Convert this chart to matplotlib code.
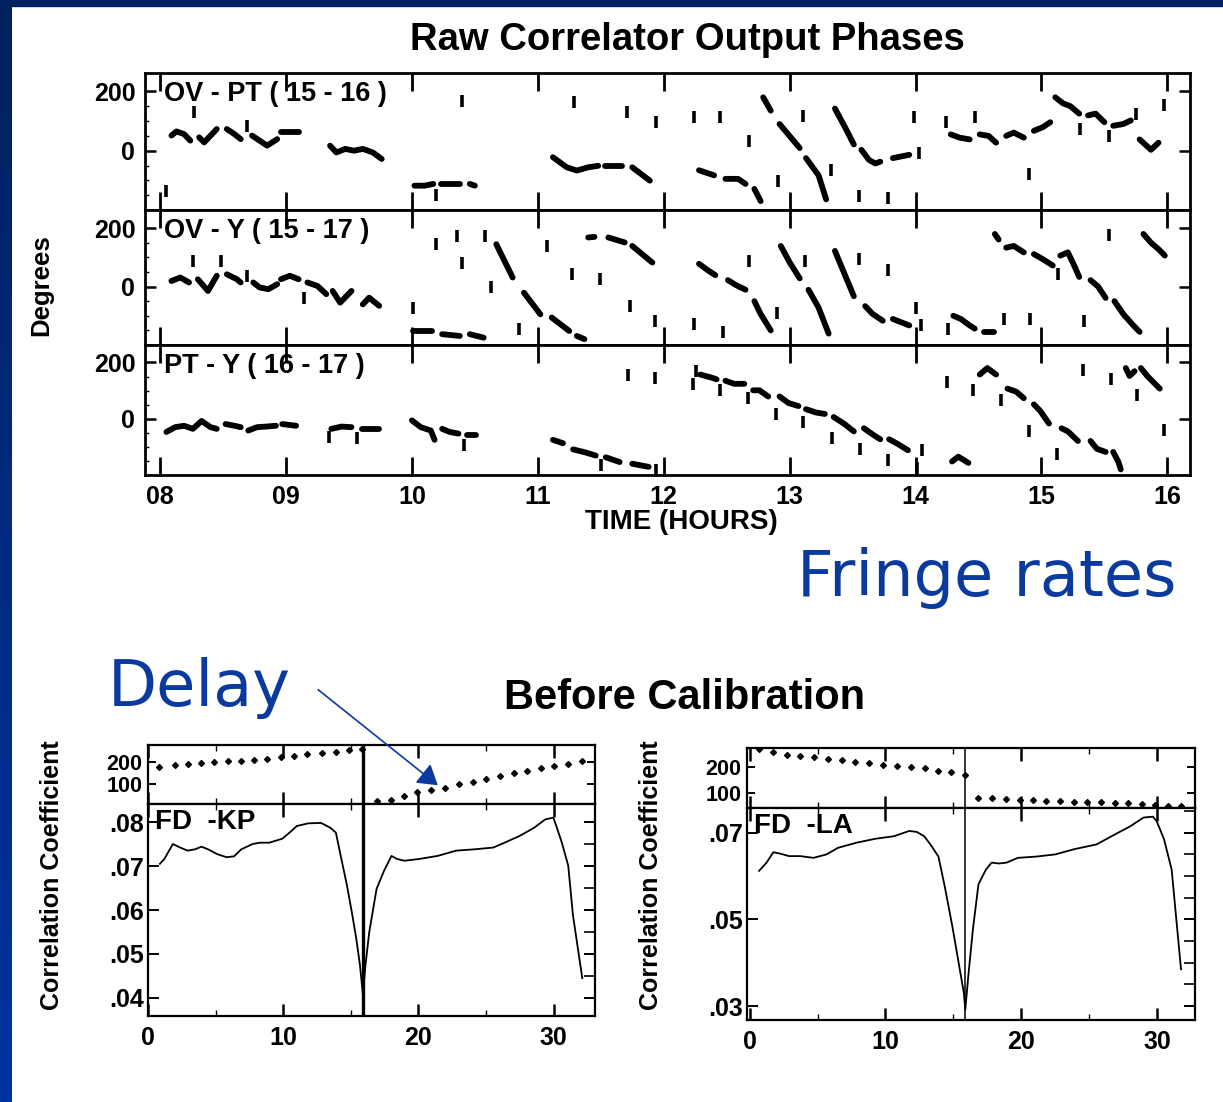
import matplotlib
matplotlib.use("Agg")
import matplotlib.pyplot as plt
from matplotlib.patches import Rectangle, FancyArrowPatch
from matplotlib.colors import LinearSegmentedColormap
import numpy as np

# ---------------- data ----------------
HOUR_TICKS = [8, 9, 10, 11, 12, 13, 14, 15, 16]
HOUR_LABELS = ["08", "09", "10", "11", "12", "13", "14", "15", "16"]
DEG_TICKS = [0, 200]
BASELINES = ["OV - PT ( 15 - 16 )", "OV - Y ( 15 - 17 )", "PT - Y ( 16 - 17 )"]

OVPT_TRACKS = [
    [(8.09, 51), (8.13, 65), (8.19, 56), (8.24, 34)],
    [(8.31, 45), (8.35, 28), (8.45, 73)],
    [(8.53, 73), (8.59, 56), (8.64, 39)],
    [(8.73, 51), (8.79, 34), (8.85, 17), (8.93, 39)],
    [(8.96, 64), (9.10, 64)],
    [(9.35, 17), (9.40, -6), (9.47, 6), (9.54, 0), (9.61, 6), (9.69, -6), (9.76, -28)],
    [(10.02, -118), (10.10, -118), (10.17, -112)],
    [(10.23, -112), (10.31, -112), (10.38, -112)],
    [(10.46, -112), (10.50, -118)],
    [(11.12, -22), (11.23, -56), (11.31, -67), (11.40, -56), (11.48, -51)],
    [(11.53, -51), (11.67, -51)],
    [(11.75, -56), (11.89, -101)],
    [(12.28, -66), (12.40, -83)],
    [(12.49, -95), (12.59, -95), (12.65, -112)],
    [(12.72, -129), (12.77, -170)],
    [(12.79, 180), (12.85, 135)],
    [(12.92, 90), (13.08, 9)],
    [(13.13, -25), (13.23, -83), (13.29, -164)],
    [(13.36, 142), (13.44, 79), (13.51, 21)],
    [(13.57, 3), (13.63, -31), (13.68, -43), (13.72, -37)],
    [(13.82, -25), (13.95, -14)],
    [(14.28, 55), (14.35, 44), (14.43, 38)],
    [(14.51, 55), (14.58, 50), (14.64, 27)],
    [(14.72, 50), (14.78, 61), (14.86, 44)],
    [(14.94, 67), (15.01, 79), (15.07, 96)],
    [(15.11, 180), (15.17, 160), (15.23, 150), (15.30, 125)],
    [(15.37, 119), (15.43, 125), (15.50, 96)],
    [(15.57, 84), (15.65, 90), (15.71, 102)],
    [(15.78, 38), (15.87, 3), (15.93, 27)],
]
OVPT_DOTS = [(8.05, -135), (8.27, 129), (8.69, 82), (10.19, -150), (10.40, 169),
             (11.29, 163), (11.71, 129), (11.94, 96), (12.24, 113), (12.45, 113),
             (12.68, 32), (12.91, -101), (13.11, 116), (13.33, -66), (13.55, -153),
             (13.78, -158), (13.99, 113), (14.03, -8), (14.24, 96), (14.47, 113),
             (14.90, -77), (15.31, 73), (15.54, 50), (15.75, 125), (15.97, 154)]

OVY_TRACKS = [
    [(8.09, 19), (8.16, 31), (8.23, 14)],
    [(8.30, 25), (8.38, -15), (8.45, 37)],
    [(8.53, 42), (8.61, 25), (8.64, 14)],
    [(8.74, 14), (8.79, -3), (8.86, -9), (8.93, 8)],
    [(8.96, 25), (9.03, 37), (9.10, 25)],
    [(9.17, 14), (9.25, 2), (9.32, -26)],
    [(9.37, -15), (9.43, -55), (9.52, -15)],
    [(9.61, -61), (9.66, -38), (9.74, -66)],
    [(10.01, -152), (10.16, -152)],
    [(10.24, -163), (10.38, -169)],
    [(10.46, -163), (10.57, -175)],
    [(10.67, 145), (10.80, 31)],
    [(10.89, -21), (11.02, -95)],
    [(11.11, -106), (11.25, -152)],
    [(11.31, -169), (11.37, -180)],
    [(11.40, 168), (11.45, 170)],
    [(11.56, 168), (11.69, 151)],
    [(11.75, 139), (11.91, 82)],
    [(12.28, 78), (12.35, 56), (12.41, 39)],
    [(12.51, 22), (12.57, 6), (12.65, -11)],
    [(12.72, -50), (12.77, -94), (12.85, -150)],
    [(12.93, 139), (13.00, 83), (13.08, 28)],
    [(13.15, -11), (13.23, -72), (13.31, -161)],
    [(13.36, 122), (13.44, 39), (13.51, -33)],
    [(13.60, -67), (13.66, -94), (13.74, -117)],
    [(13.82, -111), (13.95, -133)],
    [(14.30, -100), (14.36, -111), (14.43, -133), (14.47, -144)],
    [(14.54, -155), (14.62, -155)],
    [(14.63, 180), (14.66, 161)],
    [(14.72, 133), (14.78, 139), (14.86, 117)],
    [(14.94, 111), (15.01, 94), (15.09, 72)],
    [(15.15, 106), (15.21, 117), (15.26, 72), (15.30, 33)],
    [(15.39, 22), (15.45, 0), (15.51, -39)],
    [(15.58, -50), (15.65, -94), (15.73, -133), (15.78, -155)],
    [(15.81, 180), (15.87, 150), (15.93, 128), (15.98, 106)],
]
OVY_DOTS = [(8.26, 88), (8.48, 88), (8.69, 37), (9.14, -38), (10.01, -72), (10.19, 145),
            (10.36, 174), (10.58, 174), (10.40, 82), (10.63, -3), (10.85, -146),
            (11.07, 139), (11.27, 42), (11.49, 25), (11.73, -66), (11.93, -118),
            (12.24, -128), (12.47, -155), (12.68, 89), (12.90, -89), (13.12, 89),
            (13.55, 94), (13.78, 56), (14.00, -72), (14.04, -133), (14.26, -144),
            (14.70, -111), (14.91, -111), (15.13, 44), (15.34, -117), (15.54, 178)]

PTY_TRACKS = [
    [(8.05, -47), (8.12, -30), (8.19, -25), (8.26, -36), (8.33, -8), (8.40, -30), (8.45, -36)],
    [(8.52, -19), (8.59, -25), (8.64, -30)],
    [(8.70, -42), (8.77, -30), (8.84, -28), (8.92, -25)],
    [(8.97, -19), (9.08, -25)],
    [(9.36, -36), (9.44, -28), (9.52, -30)],
    [(9.60, -36), (9.74, -36)],
    [(10.00, -6), (10.07, -30), (10.15, -42), (10.18, -75)],
    [(10.24, -36), (10.30, -47), (10.37, -53)],
    [(10.44, -58), (10.51, -58)],
    [(11.12, -75), (11.20, -87)],
    [(11.28, -109), (11.38, -120), (11.46, -131)],
    [(11.54, -137), (11.65, -154)],
    [(11.75, -160), (11.88, -171)],
    [(12.29, 157), (12.38, 146), (12.42, 140)],
    [(12.49, 135), (12.56, 124), (12.64, 124)],
    [(12.71, 101), (12.76, 101), (12.83, 79)],
    [(12.92, 79), (12.99, 56), (13.07, 45)],
    [(13.13, 34), (13.21, 22), (13.28, 17)],
    [(13.35, 6), (13.43, -17), (13.51, -45)],
    [(13.59, -34), (13.66, -56), (13.72, -73)],
    [(13.79, -73), (13.86, -90), (13.94, -112)],
    [(14.29, -152), (14.34, -135), (14.42, -157)],
    [(14.51, 157), (14.57, 180), (14.64, 157)],
    [(14.73, 107), (14.80, 96), (14.86, 73)],
    [(14.94, 51), (14.99, 28), (15.06, -17)],
    [(15.16, -34), (15.21, -45), (15.29, -79)],
    [(15.39, -79), (15.44, -107), (15.51, -118)],
    [(15.57, -118), (15.61, -152), (15.63, -180)],
    [(15.67, 180), (15.70, 152), (15.74, 169)],
    [(15.79, 180), (15.84, 152), (15.94, 107)],
]
PTY_DOTS = [(9.34, -64), (9.56, -70), (10.41, -92), (11.50, -165), (11.94, -182),
            (11.72, 155), (11.93, 144), (12.26, 169), (12.23, 124), (12.45, 101),
            (12.67, 73), (12.89, 17), (13.11, -11), (13.34, -67), (13.56, -107),
            (13.78, -146), (14.01, -174), (14.05, -112), (14.25, 129), (14.46, 101),
            (14.68, 67), (14.90, -45), (15.12, -124), (15.33, 174), (15.55, 140),
            (15.76, 84), (15.97, -39)]

# Before calibration: delay (upper) and correlation coefficient (lower)
KP_DELAY_T = [0.82, 1.97, 2.93, 3.89, 4.90, 5.89, 6.85, 7.86, 8.82, 9.84, 10.79, 11.78,
              12.85, 13.89, 14.85, 15.81, 16.90, 17.95, 18.96, 19.92, 20.96, 21.97,
              23.01, 24.03, 24.99, 26.03, 27.04, 28.05, 29.04, 30.05, 31.07, 32.11]
KP_DELAY = [180, 188, 192, 197, 202, 206, 209, 212, 218, 226, 232, 238, 245, 251, 257, 262,
            17, 25, 42, 60, 69, 82, 100, 108, 123, 137, 152, 162, 172, 184, 195, 205]
KP_CORR_T = [0.88, 1.21, 1.84, 2.38, 2.93, 3.48, 3.95, 4.44, 5.12, 5.81, 6.36, 6.90, 7.73,
             8.27, 8.96, 9.92, 10.47, 11.01, 11.84, 12.79, 13.48, 13.89, 14.25, 14.71,
             15.07, 15.40, 15.67, 15.89, 16.08, 16.36, 16.90, 17.45, 18.00, 18.41, 18.96,
             20.05, 21.42, 22.79, 24.16, 25.53, 26.36, 27.45, 28.55, 29.37, 29.97, 30.19,
             30.60, 31.07, 31.42, 32.11]
KP_CORR = [0.0705, 0.0716, 0.0750, 0.0742, 0.0735, 0.0738, 0.0744, 0.0738, 0.0727, 0.0720,
           0.0722, 0.0738, 0.0750, 0.0753, 0.0753, 0.0762, 0.0776, 0.0791, 0.0797, 0.0798,
           0.0787, 0.0776, 0.0723, 0.0656, 0.0595, 0.0535, 0.0475, 0.0408, 0.0475, 0.0550,
           0.0648, 0.0689, 0.0723, 0.0716, 0.0712, 0.0716, 0.0723, 0.0735, 0.0738, 0.0742,
           0.0753, 0.0768, 0.0787, 0.0806, 0.0810, 0.0791, 0.0753, 0.0701, 0.0588, 0.0445]

LA_DELAY_T = [0.69, 1.74, 2.71, 3.73, 4.75, 5.75, 6.77, 7.79, 8.78, 9.81, 10.83, 11.88,
              12.90, 13.90, 14.83, 15.83, 16.85, 17.87, 18.87, 19.89, 20.86, 21.82, 22.85,
              23.90, 24.86, 25.88, 26.93, 27.90, 28.87, 29.83, 30.80, 31.77]
LA_DELAY = [269, 258, 248, 243, 239, 232, 226, 219, 216, 209, 204, 200, 197, 187, 181, 171,
            79, 79, 77, 74, 74, 71, 70, 67, 66, 64, 61, 60, 57, 55, 51, 48]
LA_CORR_T = [0.69, 1.24, 1.74, 2.21, 2.90, 3.73, 4.70, 5.66, 6.49, 7.87, 9.25, 10.64, 11.74,
             12.29, 12.85, 13.40, 13.90, 14.36, 14.92, 15.39, 15.77, 15.88, 16.10, 16.44,
             16.85, 17.40, 17.82, 18.37, 18.92, 19.75, 21.13, 22.51, 23.90, 25.55, 26.66,
             28.04, 29.01, 29.70, 29.97, 30.52, 31.08, 31.77]
LA_CORR = [0.0612, 0.0631, 0.0655, 0.0652, 0.0646, 0.0646, 0.0642, 0.0650, 0.0665, 0.0677,
           0.0686, 0.0692, 0.0704, 0.0702, 0.0692, 0.0669, 0.0645, 0.0577, 0.0485, 0.0400,
           0.0331, 0.0292, 0.0369, 0.0477, 0.0581, 0.0615, 0.0631, 0.0629, 0.0631, 0.0642,
           0.0645, 0.0650, 0.0662, 0.0673, 0.0692, 0.0715, 0.0735, 0.0737, 0.0727, 0.0685,
           0.0615, 0.0385]

SCAN_TICKS = [0, 10, 20, 30]
DELAY_TICKS = [100, 200]
KP_CORR_TICKS = [0.04, 0.05, 0.06, 0.07, 0.08]
KP_CORR_LABELS = [".04", ".05", ".06", ".07", ".08"]
LA_CORR_TICKS = [0.03, 0.05, 0.07]
LA_CORR_LABELS = [".03", ".05", ".07"]

# ---------------- figure ----------------
W, H = 1223, 1102
fig = plt.figure(figsize=(W / 100, H / 100), dpi=100)
fig.patch.set_facecolor("white")
FONT = "Liberation Sans"
BLUE = "#0a3a9e"


def box(x0, y0, x1, y1):
    return [x0 / W, 1 - y1 / H, (x1 - x0) / W, (y1 - y0) / H]


def fx(x):
    return x / W


def fy(y):
    return 1 - y / H


# frame bands (slide decoration)
fig.patches.append(Rectangle((0, fy(6)), 1, 6 / H, transform=fig.transFigure,
                             color="#00215f", zorder=0))
band = fig.add_axes(box(0, 0, 11, H))
grad = np.linspace(0, 1, 256).reshape(-1, 1)
cmap = LinearSegmentedColormap.from_list("band", ["#00215f", "#0033a2"])
band.imshow(grad, aspect="auto", cmap=cmap, extent=[0, 1, 0, 1], origin="upper")
band.axis("off")

tick_font = dict(family=FONT, weight="bold", size=18)
small_tick_font = dict(family=FONT, weight="bold", size=15.5)


def style_axes(ax, lw=1.8):
    for s in ax.spines.values():
        s.set_linewidth(lw)
    ax.tick_params(which="both", direction="in", top=True, right=True, color="black")


# ---------------- top: raw correlator output phases ----------------
panels = [(OVPT_TRACKS, OVPT_DOTS), (OVY_TRACKS, OVY_DOTS), (PTY_TRACKS, PTY_DOTS)]
edges = [73, 210, 345, 475]
for i, (tracks, dots) in enumerate(panels):
    ax = fig.add_axes(box(145, edges[i], 1190, edges[i + 1]))
    style_axes(ax, 2.0)
    ax.set_xlim(7.88, 16.18)
    ax.set_ylim(-200, 262)
    for seg in tracks:
        ts = [p[0] for p in seg]
        ds = [p[1] for p in seg]
        ax.plot(ts, ds, color="black", lw=4.2, solid_capstyle="round",
                solid_joinstyle="round")
    ax.plot([p[0] for p in dots], [p[1] for p in dots], ls="none", marker="|",
            ms=9, mew=2.6, color="black")
    ax.set_xticks(HOUR_TICKS)
    ax.set_yticks(DEG_TICKS)
    ax.set_yticks([-150, -100, -50, 50, 100, 150], minor=True)
    ax.tick_params(axis="x", length=13, width=2.0)
    ax.tick_params(axis="y", length=8, width=1.8, pad=7)
    ax.tick_params(axis="y", which="minor", length=3, width=1, left=True, right=False)
    ax.set_yticklabels([str(v) for v in DEG_TICKS], **tick_font)
    if i == 2:
        ax.set_xticklabels(HOUR_LABELS, **tick_font)
        ax.tick_params(axis="x", pad=7)
    else:
        ax.set_xticklabels([])
    ax.text(0.018, 0.94, BASELINES[i], transform=ax.transAxes, ha="left", va="top",
            family=FONT, size=19.5, weight="bold")

fig.text(fx(687), fy(40), "Raw Correlator Output Phases", ha="center", va="center",
         family=FONT, weight="bold", size=27.5)
fig.text(fx(41), fy(285), "Degrees", ha="center", va="center", rotation=90,
         family=FONT, weight="bold", size=18.5)
fig.text(fx(681), fy(522), "TIME (HOURS)", ha="center", va="center",
         family=FONT, weight="bold", size=20)

# ---------------- annotations ----------------
fig.text(fx(797), fy(578), "Fringe rates", ha="left", va="center", color=BLUE,
         family="DejaVu Sans", size=46)
fig.text(fx(108), fy(688), "Delay", ha="left", va="center", color=BLUE,
         family="DejaVu Sans", size=46)
fig.text(fx(685), fy(698), "Before Calibration", ha="center", va="center",
         family=FONT, weight="bold", size=30)

# ---------------- bottom: before calibration ----------------
specs = [
    dict(up=(148, 745, 595, 804), lo=(148, 804, 595, 1016), xlim=(0, 33.05),
         dlim=(5, 282), clim=(0.0359, 0.0841), dt=KP_DELAY_T, d=KP_DELAY,
         ct=KP_CORR_T, c=KP_CORR, yt=KP_CORR_TICKS, yl=KP_CORR_LABELS,
         name="FD  -KP", vx=15.9, vlw=2.4, ylab_x=52),
    dict(up=(747, 748, 1195, 808), lo=(747, 808, 1195, 1020), xlim=(-0.2, 32.8),
         dlim=(42, 274), clim=(0.0268, 0.0757), dt=LA_DELAY_T, d=LA_DELAY,
         ct=LA_CORR_T, c=LA_CORR, yt=LA_CORR_TICKS, yl=LA_CORR_LABELS,
         name="FD  -LA", vx=15.83, vlw=1.1, ylab_x=651),
]
for sp in specs:
    axu = fig.add_axes(box(*sp["up"]))
    axl = fig.add_axes(box(*sp["lo"]))
    for ax in (axu, axl):
        style_axes(ax, 1.6)
        ax.set_xlim(*sp["xlim"])
        ax.set_xticks(SCAN_TICKS)
        ax.set_xticks([5, 15, 25], minor=True)
        ax.tick_params(axis="x", length=9, width=1.8)
        ax.tick_params(axis="x", which="minor", length=4, width=1.0)
        ax.axvline(sp["vx"], color="black", lw=sp["vlw"])
    axu.plot(sp["dt"], sp["d"], ls="none", marker="D", ms=3, color="black")
    axu.set_ylim(*sp["dlim"])
    axu.set_yticks(DELAY_TICKS)
    axu.set_yticklabels([str(v) for v in DELAY_TICKS], **small_tick_font)
    axu.tick_params(axis="y", length=6, width=1.4, pad=4)
    axu.set_xticklabels([])
    axl.plot(sp["ct"], sp["c"], color="black", lw=1.3)
    axl.set_yticks(sp["yt"])
    axl.set_yticklabels(sp["yl"], **tick_font)
    axl.set_yticks(np.arange(0.025, 0.085, 0.005), minor=True)
    axl.tick_params(axis="y", length=8, width=1.4, pad=3)
    axl.tick_params(axis="y", which="minor", length=8, width=1.2, right=True, left=False)
    axl.set_ylim(*sp["clim"])
    axl.set_xticklabels([str(v) for v in SCAN_TICKS], **tick_font)
    axl.tick_params(axis="x", pad=7)
    axl.text(0.015, 0.975, sp["name"], transform=axl.transAxes, ha="left", va="top",
             family=FONT, size=20, weight="bold")
    fig.text(fx(sp["ylab_x"]), fy(875), "Correlation Coefficient", ha="center",
             va="center", rotation=90, family=FONT, weight="bold", size=18)

arrow = FancyArrowPatch((fx(316), fy(688)), (fx(440), fy(787)), transform=fig.transFigure,
                        arrowstyle="-|>,head_length=8,head_width=5", color=BLUE, lw=1.2,
                        mutation_scale=1.5)
fig.patches.append(arrow)

fig.savefig("out.png", dpi=100)
